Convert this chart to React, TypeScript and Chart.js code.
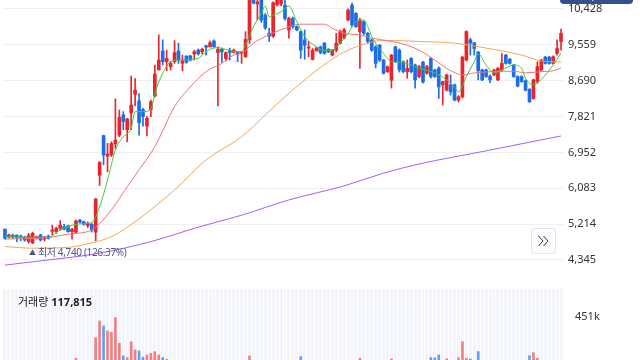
import React, { useEffect, useRef } from "react";
import { Chart, registerables } from "chart.js";

Chart.register(...registerables);

// ---- data ----
const opens = [
  5090, 4900, 4940, 4950, 4920, 4900, 4790, 4760, 4880, 4950, 4850, 4920, 5040, 5030, 5110, 5150, 5170, 5030, 5020, 5310,
  5270, 5180, 5210, 5020, 6400, 7360, 6860, 6890, 7160, 7370, 7860, 7500, 7910, 8360, 8200, 7990, 7590, 7990, 8320, 8950,
  9410, 9150, 9030, 9150, 9410, 9110, 9290, 9290, 9340, 9430, 9390, 9540, 9510, 9650, 9370, 9450, 9230, 9420, 9380, 9390,
  9350, 9270, 9680, 10750, 10550, 10700, 10280, 9840, 9770, 10530, 10550, 10520, 9920, 10200, 10000, 9880, 9680, 9480, 9210, 9420,
  9510, 9600, 9450, 9310, 9430, 9600, 9720, 10160, 10520, 10320, 9880, 10120, 9840, 9680, 9510, 9550, 9190, 8910, 8700, 9510,
  9430, 9150, 8910, 9230, 9070, 8790, 9140, 8870, 9230, 8950, 8990, 8590, 8460, 8590, 8590, 8220, 8300, 9190, 9680, 9610,
  9390, 8950, 8950, 8800, 8830, 8710, 8950, 9310, 9210, 9070, 8790, 8790, 8690, 8480, 8260, 8670, 8950, 9260, 9260, 9110,
  9350, 9640,
];
const highs = [
  5100, 4970, 4970, 4950, 4950, 4920, 4990, 5020, 4920, 4970, 4920, 4950, 5190, 5140, 5300, 5210, 5190, 5110, 5310, 5330,
  5290, 5270, 5230, 5840, 6730, 7370, 7170, 7210, 8250, 7980, 7940, 7780, 8800, 8740, 8380, 8020, 7820, 8220, 9070, 9800,
  9680, 9430, 9150, 9660, 9600, 9310, 9290, 9310, 9430, 9460, 9480, 9550, 9650, 9680, 9510, 9480, 9390, 9480, 9460, 9390,
  9390, 9880, 10780, 10800, 10680, 10750, 10320, 9960, 10600, 10760, 10780, 10660, 10230, 10230, 10020, 9900, 9920, 9640, 9470, 9500,
  9530, 9620, 9470, 9450, 9840, 9920, 9960, 10430, 10570, 10340, 10200, 10140, 9860, 9700, 9540, 9570, 9210, 9050, 9330, 9530,
  9460, 9170, 9190, 9250, 9090, 9060, 9160, 9060, 9250, 8970, 9030, 8670, 8850, 8830, 8610, 8330, 9280, 9900, 9720, 9610,
  9390, 8970, 8970, 8830, 8970, 9010, 9350, 9330, 9230, 9090, 8810, 8810, 8710, 8500, 8730, 9150, 9210, 9280, 9280, 9290,
  9680, 9940,
];
const lows = [
  4850, 4880, 4860, 4790, 4810, 4800, 4750, 4740, 4850, 4800, 4800, 4850, 4950, 4990, 5070, 5070, 5020, 4850, 4990, 5240,
  5190, 5130, 5020, 4810, 6150, 6650, 6480, 6850, 7050, 7330, 7500, 7210, 7500, 8080, 7370, 7590, 7350, 7820, 8290, 8950,
  9070, 8930, 8950, 9110, 9110, 8930, 9110, 9170, 9190, 9310, 9340, 9310, 9510, 9500, 8080, 9130, 9170, 9190, 9360, 9150,
  9110, 9260, 9590, 10550, 10160, 10100, 9930, 9640, 9740, 10500, 10500, 10160, 9720, 9960, 9900, 9230, 9210, 9270, 9190, 9400,
  9340, 9330, 9370, 9290, 9390, 9580, 9700, 10140, 10000, 9980, 8990, 9800, 9600, 9400, 9000, 9150, 8850, 8890, 8510, 9130,
  8900, 8880, 8750, 8880, 8510, 8760, 8630, 8850, 8750, 8770, 8260, 8100, 8440, 8340, 8200, 8170, 8270, 9170, 9310, 9310,
  8710, 8690, 8770, 8640, 8810, 8690, 8910, 9090, 9090, 8770, 8540, 8650, 8440, 8160, 8240, 8630, 8930, 9090, 9090, 9090,
  9310, 9430,
];
const closes = [
  4870, 4950, 4900, 4890, 4900, 4830, 4940, 4990, 4910, 4830, 4900, 4870, 5070, 5110, 5190, 5090, 5030, 5090, 5290, 5260,
  5210, 5230, 5070, 5820, 6710, 6890, 6910, 7170, 7250, 7800, 7700, 7760, 8100, 8460, 7670, 7820, 7780, 8180, 8850, 9190,
  9150, 9230, 9110, 9370, 9190, 9170, 9140, 9190, 9390, 9340, 9450, 9500, 9610, 9510, 9450, 9390, 9370, 9370, 9430, 9350,
  9390, 9690, 10720, 10570, 10600, 10160, 9970, 9770, 10580, 10700, 10720, 10200, 10200, 10000, 9920, 9430, 9550, 9510, 9430, 9480,
  9370, 9350, 9390, 9430, 9600, 9880, 9920, 10400, 10040, 10000, 10160, 9840, 9640, 9430, 9110, 9190, 8870, 9030, 9310, 9150,
  8950, 8910, 8990, 8910, 8710, 9030, 8660, 9030, 8790, 8790, 8540, 8670, 8830, 8420, 8220, 8300, 9260, 9880, 9600, 9470,
  8930, 8710, 8790, 8710, 8950, 8990, 9110, 9110, 9110, 8790, 8560, 8670, 8460, 8180, 8710, 9030, 9190, 9110, 9110, 9270,
  9470, 9840,
];
const volumes = [
  62000, 41000, 38000, 45000, 36000, 52000, 58000, 71000, 33000, 47000, 39000, 44000, 96000, 82000, 118000, 74000, 66000, 88000, 155000, 92000,
  61000, 57000, 79000, 303000, 422000, 387000, 351000, 342000, 446000, 263000, 172000, 160000, 274000, 215000, 208000, 163000, 179000, 191000, 203000, 179000,
  160000, 148000, 121000, 98000, 132000, 110000, 87000, 76000, 69000, 94000, 71000, 82000, 88000, 104000, 91000, 137000, 93000, 86000, 72000, 64000,
  78000, 84000, 172000, 139000, 128000, 112000, 131000, 96000, 102000, 135000, 118000, 109000, 126000, 97000, 84000, 167000, 122000, 91000, 76000, 83000,
  68000, 74000, 62000, 71000, 96000, 104000, 88000, 131000, 120000, 102000, 155000, 97000, 89000, 93000, 118000, 84000, 79000, 107000, 150000, 99000,
  86000, 77000, 68000, 81000, 94000, 73000, 101000, 88000, 160000, 158000, 179000, 104000, 152000, 96000, 112000, 160000, 274000, 155000, 150000, 124000,
  203000, 116000, 92000, 81000, 88000, 97000, 108000, 94000, 71000, 79000, 85000, 73000, 99000, 174000, 195000, 155000, 128000, 109000, 86000, 92000,
  135000, 117815,
];

// moving averages read at sample candles: [candle index, price]
const ma5Points: [number, number][] = [
  [0, 4910], [11, 4890], [14, 5070], [19, 5220], [22, 5250], [24, 5630], [26, 6280], [28, 7010], [30, 7330], [32, 7540],
  [33, 7940], [35, 7940], [37, 8000], [38, 8380], [40, 8870], [42, 9150], [44, 9190], [46, 9210], [49, 9230], [50, 9310],
  [52, 9450], [54, 9490], [56, 9450], [59, 9390], [60, 9390], [61, 9550], [63, 10000], [65, 10320], [66, 10500], [67, 10240],
  [68, 10280], [70, 10360], [72, 10500], [74, 10120], [76, 9760], [79, 9510], [81, 9420], [83, 9430], [85, 9600], [87, 9840],
  [89, 10120], [91, 10160], [92, 10000], [93, 9760], [96, 9350], [98, 9150], [100, 9140], [103, 9070], [105, 8990], [109, 8880],
  [112, 8710], [114, 8530], [115, 8420], [117, 8790], [119, 9150], [120, 9340], [122, 9070], [124, 8880], [126, 8950], [129, 9070],
  [131, 8990], [132, 8750], [134, 8590], [137, 8830], [139, 9070], [141, 9360],
];
const ma20Points: [number, number][] = [
  [0, 4850], [11, 4890], [16, 4970], [22, 5070], [24, 5230], [27, 5560], [31, 6120], [34, 6530], [38, 7090], [43, 8060],
  [47, 8540], [51, 8910], [55, 9110], [58, 9310], [60, 9350], [63, 9600], [66, 9760], [71, 9960], [75, 10060], [81, 10060],
  [83, 9960], [86, 9840], [90, 9800], [93, 9720], [97, 9660], [102, 9550], [105, 9430], [109, 9190], [112, 8990], [115, 8850],
  [116, 8830], [119, 8880], [124, 8910], [129, 8920], [132, 8880], [136, 8910], [139, 8930], [141, 9000],
];
const ma60Points: [number, number][] = [
  [0, 4670], [7, 4630], [16, 4650], [22, 4760], [27, 4910], [33, 5270], [38, 5640], [43, 6040], [51, 6770], [60, 7330],
  [66, 7860], [71, 8300], [75, 8630], [82, 9150], [87, 9430], [92, 9600], [95, 9660], [100, 9660], [105, 9640], [114, 9600],
  [122, 9480], [131, 9310], [136, 9170], [139, 9150], [141, 9140],
];
const ma120Points: [number, number][] = [
  [0, 4220], [7, 4300], [24, 4510], [37, 4790], [49, 5140], [60, 5430], [72, 5800], [86, 6140], [96, 6450],
  [105, 6670], [122, 6990], [141, 7350],
];

const priceTicks = [4345, 5214, 6083, 6952, 7821, 8690, 9559, 10428];
const volumeTicks = [451000];
const priceMin = 4150;
const priceMax = 10646;
const volumeMax = 651000;

const lowText = "최저";
const lowValue = "4,740 (126.37%)";
const volumeTitle = "거래량";
const volumeNow = "117,815";
const badgeText = "10,750";

// ---- styling ----
const UP = "#e8252c";
const DOWN = "#1c6ee8";
const UP_VOL = "#f07f80";
const DOWN_VOL = "#5d9ff0";
const FONT = "'Noto Sans', 'Noto Sans CJK KR', sans-serif";

const labels = opens.map((_, i) => String(i));
const candleColors = opens.map((o, i) => (closes[i] >= o ? UP : DOWN));
const volColors = opens.map((o, i) => (closes[i] >= o ? UP_VOL : DOWN_VOL));

function sparse(points: [number, number][]) {
  const arr: (number | null)[] = opens.map(() => null);
  points.forEach(([i, v]) => {
    arr[i] = v;
  });
  return arr;
}

function lineSet(points: [number, number][], color: string, order: number) {
  return {
    type: "line" as const,
    data: sparse(points),
    borderColor: color,
    borderWidth: 1,
    pointRadius: 0,
    spanGaps: true,
    tension: 0.4,
    cubicInterpolationMode: "monotone" as const,
    order,
  };
}

const noPad = (s: any) => {
  s.width = 77;
  s.paddingTop = 0;
  s.paddingBottom = 0;
};

const volBg = {
  id: "volBg",
  beforeDraw(chart: any) {
    const { ctx, chartArea } = chart;
    ctx.save();
    ctx.fillStyle = "#f3f5fa";
    ctx.fillRect(chartArea.left, chartArea.top, chartArea.right - chartArea.left, chartArea.bottom - chartArea.top);
    ctx.restore();
  },
};

export default function App() {
  const priceRef = useRef<HTMLCanvasElement | null>(null);
  const volRef = useRef<HTMLCanvasElement | null>(null);

  useEffect(() => {
    Chart.defaults.font.family = FONT;
    const price = new Chart(priceRef.current as HTMLCanvasElement, {
      type: "bar",
      data: {
        labels,
        datasets: [
          lineSet(ma5Points, "#3fcb3a", 0),
          lineSet(ma20Points, "#f27374", 1),
          lineSet(ma60Points, "#f6a552", 2),
          lineSet(ma120Points, "#a35ef6", 3),
          {
            type: "bar",
            data: opens.map((o, i) => [o, closes[i]]),
            backgroundColor: candleColors,
            barThickness: 3,
            minBarLength: 1,
            grouped: false,
            order: 4,
          } as any,
          {
            type: "bar",
            data: lows.map((l, i) => [l, highs[i]]),
            backgroundColor: candleColors,
            barThickness: 1,
            grouped: false,
            order: 5,
          } as any,
        ],
      },
      options: {
        animation: false,
        responsive: false,
        events: [],
        layout: { padding: { left: 3, right: 0, top: 0, bottom: 0 } },
        plugins: { legend: { display: false }, tooltip: { enabled: false } },
        scales: {
          x: { display: false, offset: true, grid: { display: false } },
          y: {
            position: "right",
            min: priceMin,
            max: priceMax,
            afterBuildTicks: (s: any) => {
              s.ticks = priceTicks.map((v) => ({ value: v }));
            },
            afterFit: noPad,
            grid: { color: "#eef0f4", drawTicks: false },
            border: { display: false },
            ticks: {
              padding: 5,
              color: "#333333",
              font: { family: FONT, size: 11 },
              callback: (v: any) => Number(v).toLocaleString("en-US"),
            },
          },
        },
      },
    });

    const vol = new Chart(volRef.current as HTMLCanvasElement, {
      type: "bar",
      data: {
        labels,
        datasets: [{ data: volumes, backgroundColor: volColors, barThickness: 2 }],
      },
      options: {
        animation: false,
        responsive: false,
        events: [],
        layout: { padding: { left: 3, right: 0, top: 0, bottom: 0 } },
        plugins: { legend: { display: false }, tooltip: { enabled: false } },
        scales: {
          x: {
            display: true,
            offset: true,
            afterFit: (s: any) => {
              s.height = 0;
              s.paddingLeft = 0;
              s.paddingRight = 0;
            },
            grid: { display: true, color: "#ffffff", lineWidth: 1, drawTicks: false, offset: true },
            ticks: { display: false },
            border: { display: false },
          },
          y: {
            position: "right",
            min: 0,
            max: volumeMax,
            afterBuildTicks: (s: any) => {
              s.ticks = volumeTicks.map((v) => ({ value: v }));
            },
            afterFit: noPad,
            grid: { display: false },
            border: { display: false },
            ticks: {
              padding: 4,
              color: "#333333",
              font: { family: FONT, size: 11 },
              callback: (v: any) => Math.round(Number(v) / 1000) + "k",
            },
          },
        },
      },
      plugins: [volBg],
    });

    return () => {
      price.destroy();
      vol.destroy();
    };
  }, []);

  return (
    <div
      style={{
        position: "fixed",
        left: 0,
        top: 0,
        width: 640,
        height: 360,
        overflow: "hidden",
        background: "#ffffff",
        fontFamily: FONT,
      }}
    >
      <canvas ref={priceRef} width={640} height={268} style={{ position: "absolute", left: 0, top: 0 }} />
      <canvas ref={volRef} width={640} height={91} style={{ position: "absolute", left: 0, top: 289 }} />

      <div
        style={{
          position: "absolute",
          left: 560,
          top: -12,
          width: 73,
          height: 16,
          background: "#33508c",
          borderRadius: 4,
          color: "#ffffff",
          fontSize: 11,
          lineHeight: "16px",
          textAlign: "center",
        }}
      >
        {badgeText}
      </div>

      <div
        style={{
          position: "absolute",
          left: 29,
          top: 246,
          fontSize: 10,
          lineHeight: "13px",
          letterSpacing: "-0.35px",
          color: "#4b588a",
          whiteSpace: "nowrap",
        }}
      >
        <span style={{ fontSize: 7, verticalAlign: "1px" }}>▲</span> {lowText} {lowValue}
      </div>

      <div
        style={{
          position: "absolute",
          left: 531,
          top: 228,
          width: 23,
          height: 24,
          border: "1px solid #e4e7ee",
          borderRadius: 3,
          background: "#fbfcfd",
        }}
      >
        <svg width={23} height={24} viewBox="0 0 23 24">
          <polyline points="6.5,7 11,12 6.5,17" fill="none" stroke="#333" strokeWidth={1} />
          <polyline points="11.5,7 16,12 11.5,17" fill="none" stroke="#333" strokeWidth={1} />
        </svg>
      </div>

      <div
        style={{
          position: "absolute",
          left: 18,
          top: 295,
          fontSize: 11,
          lineHeight: "14px",
          color: "#222222",
          whiteSpace: "nowrap",
        }}
      >
        {volumeTitle} <b>{volumeNow}</b>
      </div>
    </div>
  );
}
